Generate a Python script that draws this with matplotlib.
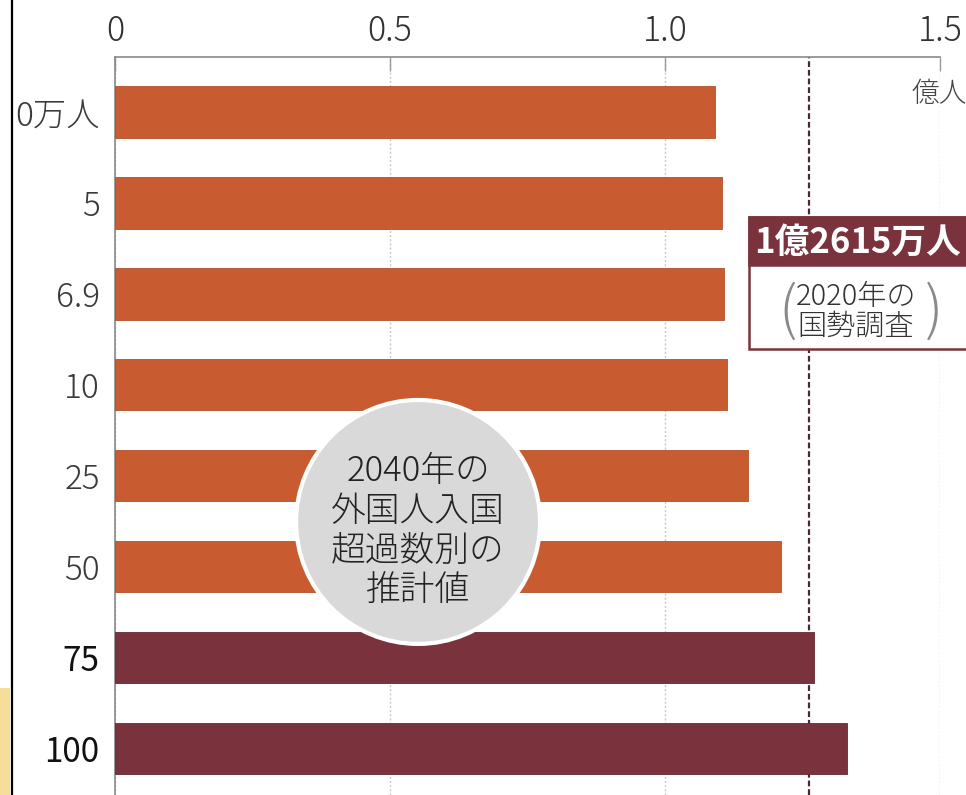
import matplotlib.pyplot as plt
from matplotlib.patches import Ellipse, Rectangle

plt.rcParams['font.family'] = ['Noto Sans CJK JP', 'DejaVu Sans']
plt.rcParams['font.weight'] = 'light'

# 2040 population estimate by annual net foreign inflow (100 million people)
inflow_labels = ["0万人", "5", "6.9", "10", "25", "50", "75", "100"]
population_2040 = [1.091, 1.103, 1.108, 1.113, 1.151, 1.210, 1.270, 1.330]
census_2020 = 1.2615
x_ticks = [0, 0.5, 1.0, 1.5]
x_ticklabels = ["0", "0.5", "1.0", "1.5"]

ORANGE = "#C85C30"
MAROON = "#7A323C"
bar_colors = [ORANGE] * 6 + [MAROON] * 2
edge_colors = ["#B0502C"] * 6 + ["#652834"] * 2
label_colors = ["#3a3a3a"] * 6 + ["#111111"] * 2
label_weights = ["light"] * 6 + ["normal"] * 2

fig = plt.figure(figsize=(9.66, 7.95), dpi=100)
ax = fig.add_axes([115 / 966, 0, 825 / 966, 738 / 795])

ypos = list(range(len(inflow_labels)))
ax.barh(ypos, population_2040, height=0.567, color=bar_colors,
        edgecolor=edge_colors, linewidth=0.6, zorder=3)

# 2020 census reference line
ax.axvline(census_2020, color="#4a2a30", lw=1.6, ls=(0, (2.6, 1.3)), zorder=2)

ax.set_xlim(0, 1.5)
ax.set_ylim(7.514, -0.605)

ax.xaxis.tick_top()
ax.set_xticks(x_ticks)
ax.set_xticklabels(x_ticklabels, fontsize=24.5, color="#333333")
ax.tick_params(axis="x", direction="in", length=10, width=1, color="#999999", pad=6)
ax.grid(axis="x", color="#c8c8c8", ls=(0, (1.5, 1.5)), lw=1)
ax.set_axisbelow(True)

ax.set_yticks(ypos)
ax.set_yticklabels(inflow_labels, fontsize=24)
ax.tick_params(axis="y", length=0, pad=11)
for lbl, c, w in zip(ax.get_yticklabels(), label_colors, label_weights):
    lbl.set_color(c)
    lbl.set_fontweight(w)

for side in ["right", "bottom"]:
    ax.spines[side].set_visible(False)
for side in ["top", "left"]:
    ax.spines[side].set_color("#8a8a8a")
    ax.spines[side].set_linewidth(1.2)

# unit label
ax.text(1.448, -0.2, "億人", fontsize=20, color="#444444", va="center",
        ha="left", clip_on=False)

# grey circle with the caption
ax.add_patch(Ellipse((0.551, 4.51), 0.4436, 2.684, facecolor="#d9d9d9",
                     edgecolor="white", lw=3, zorder=5))
ax.text(0.551, 4.61, "2040年の\n外国人入国\n超過数別の\n推計値", fontsize=25,
        color="#222222", ha="center", va="center", linespacing=1.15, zorder=6)

# census callout box
ax.add_patch(Rectangle((1.153, 1.155), 0.5, 1.452, facecolor="white",
                       edgecolor=MAROON, lw=1.8, zorder=7, clip_on=False))
ax.add_patch(Rectangle((1.153, 1.155), 0.5, 0.528, facecolor=MAROON,
                       edgecolor=MAROON, lw=1.8, zorder=7, clip_on=False))
ax.text(1.162, 1.43, "1億2615万人", fontsize=25, fontweight="bold", color="white",
        ha="left", va="center", zorder=8, clip_on=False)
ax.text(1.347, 2.035, "2020年の", fontsize=21, color="#333333", ha="center",
        va="center", zorder=8, clip_on=False)
ax.text(1.347, 2.365, "国勢調査", fontsize=21, color="#333333", ha="center",
        va="center", zorder=8, clip_on=False)
ax.text(1.222, 2.2, "(", fontsize=42, color="#8a8a8a", ha="center",
        va="center", zorder=8, clip_on=False)
ax.text(1.49, 2.2, ")", fontsize=42, color="#8a8a8a", ha="center",
        va="center", zorder=8, clip_on=False)

# page edge on the left
fig.add_artist(plt.Line2D([12 / 966, 12 / 966], [0, 1], color="black", lw=1.6))
fig.add_artist(Rectangle((0, 0), 10 / 966, 107 / 795, facecolor="#F6DE9A",
                         edgecolor="none", transform=fig.transFigure))

fig.savefig("out.png", dpi=100)
